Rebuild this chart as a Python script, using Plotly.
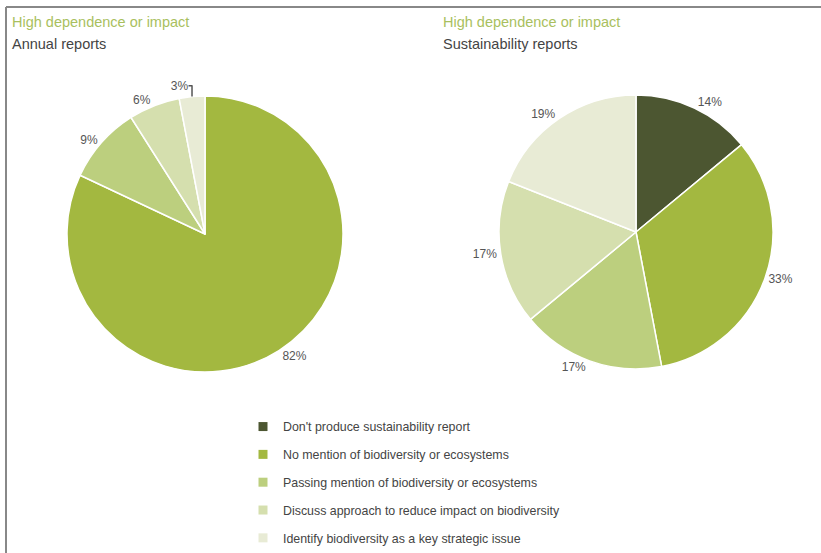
import plotly.graph_objects as go

categories = [
    "Don't produce sustainability report",
    "No mention of biodiversity or ecosystems",
    "Passing mention of biodiversity or ecosystems",
    "Discuss approach to reduce impact on biodiversity",
    "Identify biodiversity as a key strategic issue",
]
colors = ["#4c5631", "#a3b840", "#bccf7e", "#d5dfae", "#e8ebd5"]

annual_values = [0, 82, 9, 6, 3]
sustain_values = [14, 33, 17, 17, 19]

W, H = 821, 553
FONT = "Liberation Sans, Arial"

def dom_x(cx, r):
    return [(cx - r) / W, (cx + r) / W]

def dom_y(cy, r):
    return [(H - cy - r) / H, (H - cy + r) / H]

fig = go.Figure()

a_labels = [c for c, v in zip(categories, annual_values) if v > 0]
a_vals = [v for v in annual_values if v > 0]
a_cols = [col for col, v in zip(colors, annual_values) if v > 0]

label_font = dict(family=FONT, size=12, color="#555555")

fig.add_trace(go.Pie(
    labels=a_labels, values=a_vals,
    marker=dict(colors=a_cols, line=dict(color="white", width=1.5)),
    sort=False, direction="clockwise", rotation=0,
    textposition="outside", texttemplate="%{value}%",
    textfont=label_font, outsidetextfont=label_font,
    showlegend=False, hoverinfo="label+value",
    domain=dict(x=dom_x(205, 138), y=dom_y(234, 138)),
))

fig.add_trace(go.Pie(
    labels=categories, values=sustain_values,
    marker=dict(colors=colors, line=dict(color="white", width=1.5)),
    sort=False, direction="clockwise", rotation=0,
    textposition="outside", texttemplate="%{value}%",
    textfont=label_font, outsidetextfont=label_font,
    showlegend=False, hoverinfo="label+value",
    domain=dict(x=dom_x(636, 137), y=dom_y(232, 137)),
))

for i, (cat, col) in enumerate(zip(categories, colors)):
    fig.add_trace(go.Scatter(
        x=[None], y=[None], mode="markers", name=cat,
        marker=dict(symbol="square", size=9, color=col),
        legendgroup=f"g{i}", showlegend=True, hoverinfo="skip",
    ))

def title(text, x, y, color):
    return dict(text=text, x=x / W, y=1 - y / H, xref="paper", yref="paper",
                xanchor="left", yanchor="middle", showarrow=False,
                font=dict(family=FONT, size=14.5, color=color))

fig.update_layout(
    width=W, height=H,
    margin=dict(l=0, r=0, t=0, b=0),
    paper_bgcolor="white", plot_bgcolor="white",
    xaxis=dict(visible=False), yaxis=dict(visible=False),
    legend=dict(
        x=243 / W, y=0, xanchor="left", yanchor="bottom",
        font=dict(family=FONT, size=12.4, color="#444444"),
        tracegroupgap=8.7, itemwidth=30,
        bgcolor="rgba(0,0,0,0)",
    ),
    shapes=[
        dict(type="line", xref="paper", yref="paper", x0=6 / W, x1=1, y0=1 - 7 / H, y1=1 - 7 / H,
             line=dict(color="#888888", width=2)),
        dict(type="line", xref="paper", yref="paper", x0=6 / W, x1=6 / W, y0=0, y1=1 - 7 / H,
             line=dict(color="#888888", width=2)),
    ],
    annotations=[
        title("High dependence or impact", 10, 22, "#a9bf5e"),
        title("Annual reports", 10, 44, "#444444"),
        title("High dependence or impact", 441, 22, "#a9bf5e"),
        title("Sustainability reports", 441, 44, "#444444"),
    ],
)

fig.write_html("out.html")
